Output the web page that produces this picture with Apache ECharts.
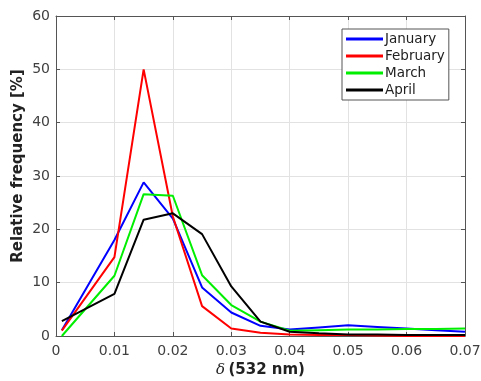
<!DOCTYPE html>
<html><head><meta charset="utf-8">
<script src="https://cdn.jsdelivr.net/npm/echarts@6/dist/echarts.min.js"></script>
<style>html,body{margin:0;padding:0;background:#fff}#c{width:481px;height:381px}</style>
</head><body><div id="c"></div>
<script>
const xs = [0.001, 0.01, 0.015, 0.02, 0.025, 0.03, 0.035, 0.04, 0.045, 0.05, 0.055, 0.06, 0.065, 0.07];
const january = [1.1, 18, 28.8, 22, 9.1, 4.4, 1.9, 1.2, 1.6, 2.0, 1.7, 1.4, 1.1, 0.8];
const february = [1.0, 14.8, 50, 22.4, 5.6, 1.4, 0.6, 0.3, 0.2, 0.2, 0.1, 0.0, 0.0, 0.0];
const march = [0.0, 11.3, 26.6, 26.3, 11.4, 5.8, 2.7, 1.0, 1.1, 1.2, 1.2, 1.3, 1.3, 1.4];
const april = [2.8, 7.9, 21.8, 23.0, 19.1, 9.3, 2.7, 0.8, 0.5, 0.3, 0.3, 0.2, 0.2, 0.2];
const names = ['January', 'February', 'March', 'April'];
const colors = ['#0000ff', '#ff0000', '#00ee00', '#000000'];
const seriesData = [january, february, march, april];

const axisCol = '#555';
const chart = echarts.init(document.getElementById('c'));
const fmtX = v => v === 0 ? '0' : v.toFixed(2);
chart.setOption({
  animation: false,
  grid: { left: 56, right: 16, top: 16, bottom: 45, containLabel: false, outerBoundsMode: 'none' },
  legend: {
    orient: 'vertical', left: 342, top: 29,
    backgroundColor: '#fff', borderColor: axisCol, borderWidth: 1,
    padding: [3, 4, 3, 4], itemGap: 3, itemWidth: 37, itemHeight: 3,
    icon: 'rect',
    textStyle: { fontFamily: 'DejaVu Sans', fontSize: 13.5, color: '#222', lineHeight: 13, padding: [0, 0, 0, -3] },
    data: names
  },
  xAxis: [{
    type: 'value', min: 0, max: 0.07, interval: 0.01,
    axisLine: { show: true, onZero: false, lineStyle: { color: axisCol } },
    axisTick: { show: true, inside: true, length: 4, lineStyle: { color: axisCol } },
    axisLabel: { formatter: fmtX, color: '#404040', fontFamily: 'DejaVu Sans', fontSize: 14, margin: 8 },
    splitLine: { show: true, lineStyle: { color: '#e2e2e2' } },
    name: '{i|δ} {b|(532 nm)}', nameLocation: 'middle', nameGap: 27,
    nameTextStyle: { rich: {
      i: { fontFamily: 'DejaVu Serif', fontStyle: 'italic', fontSize: 15, color: '#222' },
      b: { fontFamily: 'DejaVu Sans', fontWeight: 'bold', fontSize: 15, color: '#222' }
    } }
  }, {
    type: 'value', min: 0, max: 0.07, interval: 0.01, position: 'top',
    axisLine: { show: true, onZero: false, lineStyle: { color: axisCol } },
    axisTick: { show: true, inside: true, length: 4, lineStyle: { color: axisCol } },
    axisLabel: { show: false }, splitLine: { show: false }
  }],
  yAxis: [{
    type: 'value', min: 0, max: 60, interval: 10,
    axisLine: { show: true, onZero: false, lineStyle: { color: axisCol } },
    axisTick: { show: true, inside: true, length: 4, lineStyle: { color: axisCol } },
    axisLabel: { color: '#404040', fontFamily: 'DejaVu Sans', fontSize: 14, margin: 6 },
    splitLine: { show: true, lineStyle: { color: '#e2e2e2' } },
    name: 'Relative frequency [%]', nameLocation: 'middle', nameGap: 30, nameMoveOverlap: false,
    nameTextStyle: { fontFamily: 'DejaVu Sans', fontWeight: 'bold', fontSize: 15, color: '#222', padding: [0, 0, 0, 20] }
  }, {
    type: 'value', min: 0, max: 60, interval: 10, position: 'right',
    axisLine: { show: true, onZero: false, lineStyle: { color: axisCol } },
    axisTick: { show: true, inside: true, length: 4, lineStyle: { color: axisCol } },
    axisLabel: { show: false }, splitLine: { show: false }
  }],
  series: names.map((n, i) => ({
    name: n, type: 'line', xAxisIndex: 0, yAxisIndex: 0,
    data: xs.map((x, j) => [x, seriesData[i][j]]),
    showSymbol: false, symbol: 'none',
    lineStyle: { color: colors[i], width: 2 },
    itemStyle: { color: colors[i] }
  }))
});
</script></body></html>
